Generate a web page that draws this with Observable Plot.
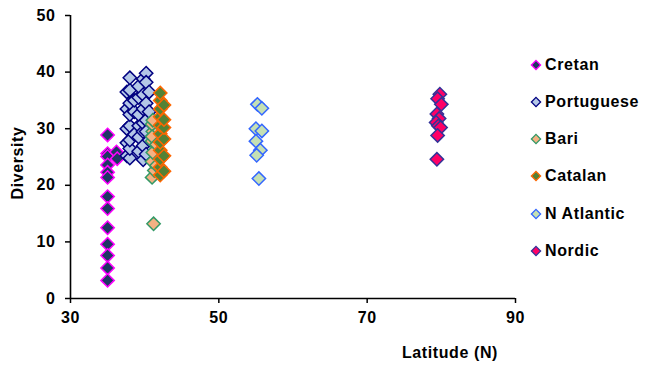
<!DOCTYPE html>
<html><head><meta charset="utf-8">
<script src="https://cdn.jsdelivr.net/npm/d3@7"></script>
<script src="https://cdn.jsdelivr.net/npm/@observablehq/plot@0.6"></script>
<style>
body{margin:0;background:#fff;}
#wrap{position:relative;width:646px;height:365px;font-family:"Liberation Sans",Arial,sans-serif;font-weight:bold;color:#000;}
#wrap svg text{letter-spacing:0.6px;}
.lbl{position:absolute;font-size:16px;letter-spacing:0.6px;white-space:nowrap;line-height:1;}
.item{position:absolute;left:530px;display:flex;align-items:center;font-size:16px;letter-spacing:0.6px;white-space:nowrap;line-height:1;transform:translateY(-50%);}
.item svg{margin-right:3px;}
</style></head><body><div id="wrap"></div>
<script>
const seriesNames = ["Cretan","Portuguese","Bari","Catalan","N Atlantic","Nordic"];
const fills   = ["#1f3864","#b4c7e7","#f4b183","#548235","#c5e0b4","#ff0066"];
const strokes = ["#ff00ff","#000080","#339966","#ff6600","#3366ff","#333399"];

const cretanLat = [35,35,35,35,35,35,35,35,35,35,35,35,35,36.2,36.3];
const cretanDiv = [28.9,25.6,25.1,23.6,22.3,21.4,18.0,15.9,12.5,9.6,7.6,5.4,3.2,25.9,24.7];

const portLat = [37.6,37.6,37.6,37.6,37.6,
                 38.0,38.0,38.0,38.0,38.0,38.0,38.0,38.0,
                 38.6,38.6,38.6,
                 39.2,39.2,39.2,39.2,39.2,39.2,
                 39.8,39.8,39.8,39.8,39.8,39.8,39.8,
                 40.2,40.2,40.2,40.2,40.2,40.2,
                 40.6,40.6,40.6];
const portDiv = [25.2,27.5,30.0,33.5,36.5,
                 24.8,26.5,28.0,30.5,32.5,34.5,36.8,39.0,
                 29.0,33.0,35.0,
                 26.0,28.5,30.5,32.5,35.5,37.5,
                 24.5,27.0,29.5,31.0,33.5,36.0,38.8,
                 39.8,38.2,34.5,31.5,25.5,29.5,
                 36.5,33.0,28.0];

const bariLat = [41.2,41.0,41.3,41.0,41.1,41.0,41.1,41.0,41.1,41.0,41.6,41.6];
const bariDiv = [13.2,21.4,22.6,24.2,25.8,27.8,29.5,30.8,31.5,28.6,23.5,27.2];

const catLat = [42.1,42.1,42.1,42.1,42.1,42.1,42.1,42.1,42.1,42.1,42.1,42.6,42.6,42.6,42.6,42.6,42.6];
const catDiv = [21.8,23.2,24.6,26.2,27.6,29.1,30.6,32.1,33.5,35.0,36.3,22.5,25.2,28.2,30.2,31.6,34.2];

const natLat = [55.2,55.8,55.0,55.8,55.0,55.6,55.1,55.4];
const natDiv = [34.3,33.6,30.0,29.6,27.8,26.2,25.3,21.2];

const nordLat = [79.8,79.5,80.0,79.4,79.7,79.3,79.6,79.9,79.5,79.4];
const nordDiv = [36.1,35.3,34.3,32.6,31.8,31.1,30.5,30.2,28.8,24.6];

const xTicks = [30,50,70,90];
const yTicks = [0,10,20,30,40,50];

const lats = [cretanLat, portLat, bariLat, catLat, natLat, nordLat];
const divs = [cretanDiv, portDiv, bariDiv, catDiv, natDiv, nordDiv];
const tables = lats.map((la, i) => la.map((v, j) => ({lat: v, div: divs[i][j], series: seriesNames[i]})));

const chart = Plot.plot({
  width: 646, height: 365,
  marginLeft: 70, marginRight: 131, marginTop: 15, marginBottom: 67,
  style: {fontFamily: '"Liberation Sans", Arial, sans-serif', fontSize: "16px", fontWeight: "bold", color: "#000", background: "#fff", overflow: "visible"},
  x: {domain: [30, 90]},
  y: {domain: [0, 50]},
  marks: [
    Plot.axisX({ticks: xTicks, tickSize: 5, tickPadding: 8, label: null, stroke: "#000", strokeWidth: 1.5}),
    Plot.axisY({ticks: yTicks, tickSize: 5, tickPadding: 10, label: null, stroke: "#000", strokeWidth: 1.5}),
    ...tables.map((t, i) => Plot.dot(t, {x: "lat", y: "div", symbol: "diamond2", r: 6, fill: fills[i], stroke: strokes[i], strokeWidth: 1.5})),
    Plot.ruleX([30], {stroke: "#000", strokeWidth: 1.6}),
    Plot.ruleY([0], {stroke: "#000", strokeWidth: 1.6})
  ]
});

const wrap = document.getElementById("wrap");
wrap.appendChild(chart);

const xt = document.createElement("div");
xt.className = "lbl";
xt.textContent = "Latitude (N)";
xt.style.right = "148px";
xt.style.top = "353px";
xt.style.transform = "translateY(-50%)";
wrap.appendChild(xt);

const yt = document.createElement("div");
yt.className = "lbl";
yt.textContent = "Diversity";
yt.style.left = "18px";
yt.style.top = "163px";
yt.style.transform = "translate(-50%,-50%) rotate(-90deg)";
wrap.appendChild(yt);

const legendY = [65, 101.7, 138.6, 176.4, 214, 251];
seriesNames.forEach((name, i) => {
  const it = document.createElement("div");
  it.className = "item";
  it.style.top = legendY[i] + "px";
  it.innerHTML = `<svg width="12" height="12" viewBox="-6 -6 12 12"><path d="M0,-4.6L4.6,0L0,4.6L-4.6,0Z" fill="${fills[i]}" stroke="${strokes[i]}" stroke-width="1.3"/></svg><span>${name}</span>`;
  wrap.appendChild(it);
});
</script>
</body></html>
